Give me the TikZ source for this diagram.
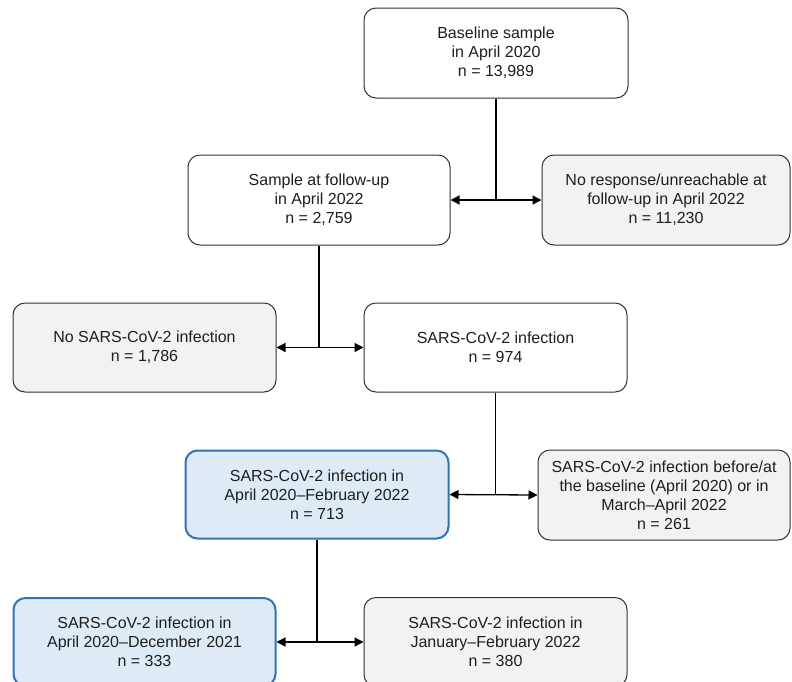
\documentclass[tikz,border=0pt]{standalone}
\usepackage{fontspec}
\setmainfont{Liberation Sans}
\usepackage{xcolor}
\usepackage{tikz}
\usetikzlibrary{arrows.meta,positioning,calc}
\definecolor{FlowText}    {RGB}{ 30,  30,  30}
\definecolor{FlowEdge}    {RGB}{ 50,  50,  50}
\definecolor{FlowGray}    {RGB}{242, 242, 242}
\definecolor{FlowBlue}    {RGB}{222, 235, 247}
\definecolor{FlowBlueEdge}{RGB}{ 46, 117, 182}
\tikzset{
  flowbox/.style={draw=FlowEdge, line width=1pt, rounded corners=12pt,
    fill=white, text=FlowText, align=center, inner sep=0pt,
    font=\fontsize{16}{19}\selectfont},
  greybox/.style={flowbox, fill=FlowGray},
  bluebox/.style={flowbox, fill=FlowBlue, draw=FlowBlueEdge, line width=2pt},
  trunk/.style={line width=1.3pt, draw=black},
  branch/.style={trunk, {Triangle[length=9pt,width=9pt]}-{Triangle[length=9pt,width=9pt]}}
}

\begin{document}
\begin{tikzpicture}[x=1pt, y=-1pt]
      \clip (0,0) rectangle (792,681);
      \fill[white] (0,0) rectangle (792,681);
      % Top of the flow
      \node[flowbox, minimum width=264pt, minimum height=90pt]
        (baseline) at (496,53)
        {Baseline sample\\in April 2020\\n = 13,989};
      \node[flowbox, minimum width=262pt, minimum height=90pt]
        (followup) at (319,200)
        {Sample at follow-up\\in April 2022\\n = 2,759};
      \node[greybox, minimum width=248pt, minimum height=90pt]
        (noresponse) at (666,200)
        {No response/unreachable at\\follow-up in April 2022\\n = 11,230};
      % Infection split
      \node[greybox, minimum width=263pt, minimum height=89pt]
        (noinfect) at (144.5,347.5)
        {No SARS-CoV-2 infection\\n = 1,786};
      \node[flowbox, minimum width=263pt, minimum height=89pt]
        (infect) at (495.5,347.5)
        {SARS-CoV-2 infection\\n = 974};
      % Timing of infection
      \node[bluebox, minimum width=263pt, minimum height=88pt]
        (window) at (317,494.5)
        {SARS-CoV-2 infection in\\April 2020--February 2022\\n = 713};
      \node[greybox, minimum width=252pt, minimum height=90pt]
        (outside) at (664,495)
        {SARS-CoV-2 infection before/at\\the baseline (April 2020) or in\\March--April 2022\\n = 261};
      % Bottom row (cut by the page edge)
      \node[bluebox, minimum width=262pt, minimum height=88pt]
        (early) at (144.5,642)
        {SARS-CoV-2 infection in\\April 2020--December 2021\\n = 333};
      \node[greybox, minimum width=263pt, minimum height=89pt]
        (late) at (495.5,642)
        {SARS-CoV-2 infection in\\January--February 2022\\n = 380};
      % Connectors
      \coordinate (j1) at (baseline.south |- followup.east);
      \coordinate (j2) at (followup.south |- noinfect.east);
      \coordinate (j3) at (infect.south |- window.east);
      \coordinate (j4) at (window.south |- early.east);
      \draw[trunk] (baseline.south) -- (j1);
      \draw[branch] (followup.east) -- (noresponse.west);
      \draw[trunk] (followup.south) -- (j2);
      \draw[branch] (noinfect.east) -- (infect.west);
      \draw[trunk] (infect.south) -- (j3);
      \draw[branch] (window.east) -- (outside.west);
      \draw[trunk] (window.south) -- (j4);
      \draw[branch] (early.east) -- (late.west);
    \end{tikzpicture}
\end{document}
